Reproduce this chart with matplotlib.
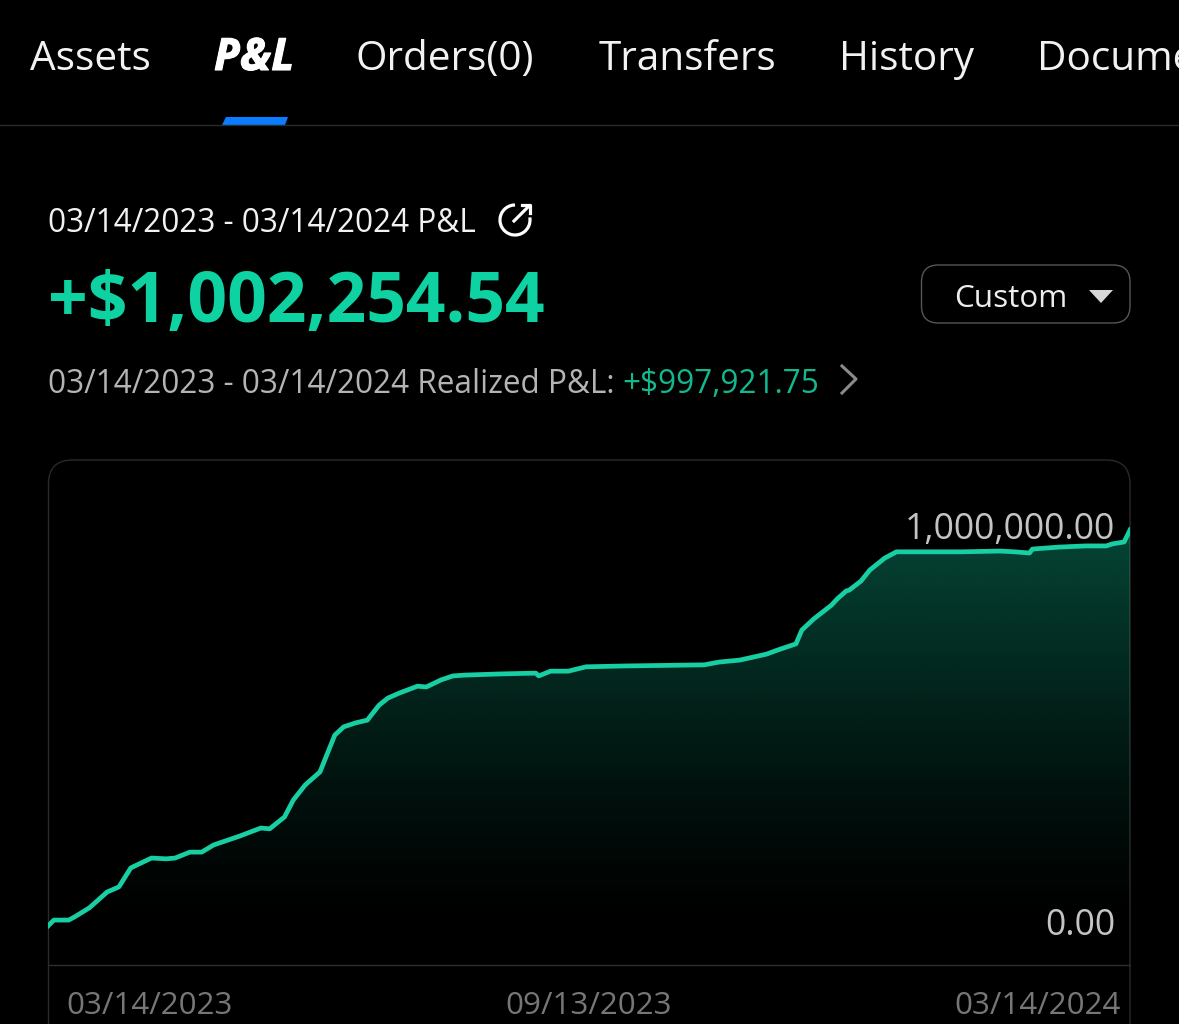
import matplotlib
matplotlib.use('Agg')
import matplotlib.pyplot as plt
import matplotlib.patheffects as pe
import numpy as np
from matplotlib.patches import FancyBboxPatch, Polygon, Arc

plt.rcParams['font.family'] = ['Open Sans', 'DejaVu Sans']

# ---- data ----
days = [0, 2, 7, 9, 14, 20, 24, 28, 35, 40, 43, 48, 52, 56, 65, 72, 75, 80, 83, 87, 92, 97, 100,
        104, 108, 112, 115, 119, 125, 128, 133, 137, 141, 153, 165, 166, 170, 176, 182, 194, 222,
        227, 234, 243, 247, 253, 255, 259, 265, 267, 270, 271, 275, 278, 283, 287, 309, 322, 327,
        332, 333, 342, 351, 358, 360, 364, 366]
pnl = [0, 15, 15, 23, 46, 86, 99, 147, 172, 170, 172, 187, 187, 205, 228, 248, 246, 276, 319, 357,
       390, 483, 504, 514, 521, 559, 577, 590, 607, 605, 623, 633, 635, 638, 640, 633, 645, 645,
       656, 658, 661, 668, 673, 688, 699, 714, 749, 777, 812, 828, 848, 850, 873, 901, 931, 947,
       947, 949, 947, 944, 954, 959, 962, 962, 967, 972, 1002.25]
pnl = [p * 1000 for p in pnl]

tab_labels = ['Assets', 'P&L', 'Orders(0)', 'Transfers', 'History', 'Documents']
date_ticks = [0, 183, 366]
date_labels = ['03/14/2023', '09/13/2023', '03/14/2024']

GREEN = '#0FD2A2'
W, H = 1179, 1024

fig = plt.figure(figsize=(W / 100, H / 100), dpi=100, facecolor='black')

# page layer, in pixels
ui = fig.add_axes([0, 0, 1, 1])
ui.set_xlim(0, W)
ui.set_ylim(H, 0)
ui.axis('off')

# tabs
tab_x = [30, 214, 356, 599, 839, 1037]
for x, lab in zip(tab_x, tab_labels):
    if lab == 'P&L':
        ui.text(x, 70, lab, fontsize=32, color='white', weight='bold', style='italic', va='baseline',
                path_effects=[pe.withStroke(linewidth=0.8, foreground='white')])
    else:
        ui.text(x, 70, lab, fontsize=29.2, color='#F2F2F2', va='baseline')
ui.plot([0, W], [125, 125], color='#2B2B2B', lw=1)
ui.add_patch(Polygon([[226, 117], [288, 117], [285, 125], [222, 125]], color='#0A7CFF', lw=0))

# header
ui.text(48, 232, '03/14/2023 - 03/14/2024 P&L', fontsize=22.7, color='#F2F2F2', va='baseline')
ui.add_patch(Arc((515, 220), 30, 30, theta1=-10, theta2=270, ec='white', lw=2.3))
ui.plot([514, 529], [221, 206], color='white', lw=2.3)
ui.plot([522, 530, 530], [205, 205, 213], color='white', lw=2.3)

ui.text(48, 322, '+$1,002,254.54', fontsize=50, color=GREEN, weight='bold', va='baseline')

ui.add_patch(FancyBboxPatch((921.5, 265), 208.5, 58, boxstyle='round,pad=0,rounding_size=17',
                            fc='black', ec='#565656', lw=1))
ui.text(954, 307, 'Custom', fontsize=22.6, color='#EDEDED', va='baseline')
ui.add_patch(Polygon([[1089, 290], [1113, 290], [1101, 303]], color='#D8D8D8', lw=0))

ui.text(48, 393, '03/14/2023 - 03/14/2024 Realized P&L:', fontsize=22.7, color='#B4B4B4', va='baseline')
ui.text(622, 393, '+$997,921.75', fontsize=22.7, color='#12B98F', va='baseline')
ui.plot([842, 856, 842], [366, 379, 393], color='#8A8A8A', lw=2.2)

# chart panel
ui.add_patch(FancyBboxPatch((48.5, 460), 1081.5, 700, boxstyle='round,pad=0,rounding_size=24',
                            fc='black', ec='#2A2A2A', lw=1))
ui.plot([48.5, 1130], [965, 965], color='#2E2E2E', lw=1)

# chart layer: x spans the panel, y is set so 0 sits at 926 px and the last value at 530 px
left, right, top, bottom = 48, 1130, 460, 965
ax = fig.add_axes([left / W, 1 - bottom / H, (right - left) / W, (bottom - top) / H])
ax.patch.set_alpha(0)
ax.axis('off')
per_px = pnl[-1] / (926 - 530)

# area under the curve fades out to black
grad = np.zeros((256, 2, 4))
grad[..., 0] = 0x0F / 255
grad[..., 1] = 0xD2 / 255
grad[..., 2] = 0xA2 / 255
grad[..., 3] = (0.33 * np.linspace(1, 0, 256) ** 1.25)[:, None]
img = ax.imshow(grad, extent=[0, 366, 0, max(pnl)], origin='upper', aspect='auto', zorder=1)
area = ax.fill_between(days, pnl, 0, color='none', lw=0)
img.set_clip_path(area.get_paths()[0], transform=ax.transData)
ax.set_xlim(date_ticks[0], date_ticks[-1])
ax.set_ylim(-(bottom - 926) * per_px, (926 - top) * per_px)

ax.plot(days, pnl, color='#17CFA3', lw=3.4, solid_joinstyle='round', zorder=3)

# axis labels
ui.set_zorder(0)
ax.set_zorder(1)
ui.text(1115, 539, '1,000,000.00', fontsize=25.6, color='#C4C4C4', ha='right', va='baseline', zorder=5)
ui.text(1115, 935, '0.00', fontsize=25.6, color='#C4C4C4', ha='right', va='baseline', zorder=5)
aligns = ['left', 'center', 'right']
label_x = [66, 589, 1121]
for x, lab, a in zip(label_x, date_labels, aligns):
    ui.text(x, 1014, lab, fontsize=22.6, color='#767676', ha=a, va='baseline')

fig.savefig('out.png', dpi=100, facecolor='black')
